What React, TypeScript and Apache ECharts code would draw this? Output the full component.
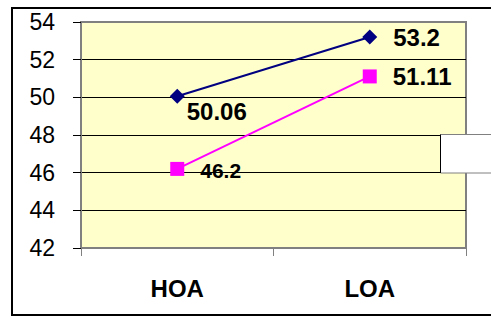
import { useEffect, useRef } from 'react';
import * as echarts from 'echarts';

const categories = ['HOA', 'LOA'];
const seriesA = [50.06, 53.2];
const seriesB = [46.2, 51.11];
const yMin = 42;
const yMax = 54;
const yStep = 2;

const FONT = 'Liberation Sans, Arial, sans-serif';

export default function App() {
  const ref = useRef<HTMLDivElement>(null);
  useEffect(() => {
    const chart = echarts.init(ref.current!, null, { renderer: 'svg' });
    const labelBase = {
      show: true,
      position: 'right',
      fontFamily: FONT,
      fontWeight: 'bold',
      fontSize: 24,
      color: '#000',
    };
    chart.setOption({
      animation: false,
      backgroundColor: '#ffffff',
      grid: {
        left: 81,
        top: 22,
        right: 25,
        bottom: 70,
        show: true,
        backgroundColor: '#FFFFCC',
        borderColor: '#808080',
        borderWidth: 2,
      },
      xAxis: {
        type: 'category',
        data: categories,
        boundaryGap: true,
        axisLine: { lineStyle: { color: '#808080', width: 2 } },
        axisTick: { show: true, length: 8, lineStyle: { color: '#808080', width: 1 } },
        axisLabel: { fontFamily: FONT, fontWeight: 'bold', fontSize: 24, color: '#000', margin: 28 },
        splitLine: { show: false },
      },
      yAxis: {
        type: 'value',
        min: yMin,
        max: yMax,
        interval: yStep,
        axisLine: { show: true, lineStyle: { color: '#808080', width: 2 } },
        axisTick: { show: true, length: 8, lineStyle: { color: '#000', width: 1 } },
        axisLabel: { fontFamily: FONT, fontSize: 23, color: '#000', margin: 26 },
        splitLine: { show: true, showMinLine: false, showMaxLine: false, lineStyle: { color: '#000', width: 1 } },
      },
      series: [
        {
          type: 'line',
          data: [
            { value: seriesA[0], label: { ...labelBase, distance: 2, offset: [0, 15] } },
            { value: seriesA[1], label: { ...labelBase, distance: 16 } },
          ],
          symbol: 'diamond',
          symbolSize: 15,
          lineStyle: { color: '#000080', width: 2 },
          itemStyle: { color: '#000080' },
          label: labelBase,
        },
        {
          type: 'line',
          data: [
            { value: seriesB[0], label: { ...labelBase, fontSize: 21, distance: 16, offset: [0, 2] } },
            { value: seriesB[1], label: { ...labelBase, distance: 16 } },
          ],
          symbol: 'rect',
          symbolSize: 14,
          lineStyle: { color: '#FF00FF', width: 2 },
          itemStyle: { color: '#FF00FF' },
          label: labelBase,
        },
      ],
      graphic: [
        {
          type: 'rect',
          shape: { x: 12, y: 8, width: 500, height: 307 },
          style: { fill: 'none', stroke: '#000', lineWidth: 2 },
          z: 50,
        },
        {
          type: 'rect',
          shape: { x: 440.5, y: 134.5, width: 60, height: 38.5 },
          style: { fill: '#ffffff', stroke: '#808080', lineWidth: 1 },
          z: 100,
        },
        {
          type: 'line',
          shape: { x1: 440.5, y1: 134.5, x2: 440.5, y2: 173 },
          style: { stroke: '#000', lineWidth: 1 },
          z: 101,
        },
      ],
    });
    return () => chart.dispose();
  }, []);
  return (
    <div
      ref={ref}
      style={{ position: 'fixed', left: 0, top: 0, width: 491, height: 318 }}
    />
  );
}
